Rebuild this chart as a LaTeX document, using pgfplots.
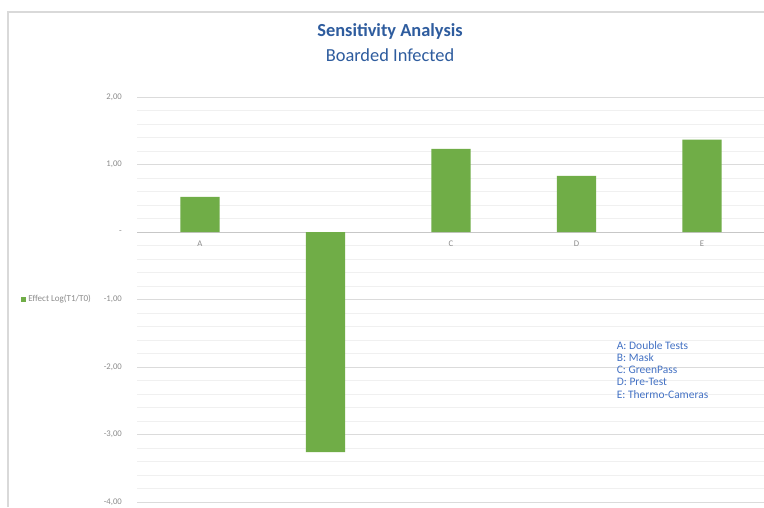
\documentclass[border=0pt]{standalone}
\usepackage{fontspec}
\setmainfont{Carlito}
\usepackage{pgfplots}
\pgfplotsset{compat=1.18}
\definecolor{bargreen}{HTML}{70AD47}
\definecolor{titleblue}{HTML}{2E5C9E}
\definecolor{noteblue}{HTML}{4472C4}
\definecolor{ticktxt}{HTML}{8C8C8C}

\begin{document}
\begin{tikzpicture}[x=1pt,y=1pt]
\useasboundingbox (0,0) rectangle (573,380.25);
\fill[white] (0,0) rectangle (573,380.25);
% chart frame
\draw[black!15, line width=1.2pt] (6,0) -- (6,371.25) -- (573,371.25);

\node[font=\bfseries\fontsize{13.8}{15}\selectfont, text=titleblue] at (292.5,357) {Sensitivity Analysis};
\node[font=\fontsize{13.8}{15}\selectfont, text=titleblue] at (292.5,338.5) {Boarded Infected};

\begin{axis}[
    at={(102.9pt,3.75pt)}, anchor=south west,
    scale only axis,
    width=470.6pt, height=303.75pt,
    ybar, bar width=29.5pt,
    xmin=-0.5, xmax=4.5,
    ymin=-4, ymax=2,
    axis x line*=middle,
    axis y line*=left,
    x axis line style={black!22, line width=0.6pt},
    y axis line style={draw=none},
    xtick={0,1,2,3,4},
    xticklabels={A,B,C,D,E},
    ytick={-4,-3,-2,-1,0,1,2},
    yticklabels={{-4,00},{-3,00},{-2,00},{-1,00},{-},{1,00},{2,00}},
    minor y tick num=4,
    ymajorgrids, yminorgrids,
    major grid style={black!14, line width=0.6pt},
    minor grid style={black!6, line width=0.5pt},
    major tick length=0pt, minor tick length=0pt,
    tick style={draw=none},
    xticklabel style={font=\fontsize{6.5}{7.5}\selectfont, text=ticktxt, yshift=-3pt},
    yticklabel style={font=\fontsize{6.5}{7.5}\selectfont, text=ticktxt, xshift=-8pt},
    legend style={at={(-0.192,0.5)}, anchor=west, draw=none, fill=none,
        font=\fontsize{6.8}{8}\selectfont, text=ticktxt,
        /tikz/every even column/.append style={column sep=1pt}},
    legend image code/.code={\fill[bargreen] (0pt,-1.8pt) rectangle (3.6pt,1.8pt);},
]
\addplot[fill=bargreen, draw=none] coordinates {(0,0.52) (1,-3.26) (2,1.23) (3,0.83) (4,1.37)};
\addlegendentry{Effect Log(T1/T0)}
\node[anchor=north west, align=left, text=noteblue,
      font=\fontsize{8.6}{9.1}\selectfont, inner sep=0pt] at (axis cs:3.32,-1.62)
  {A: Double Tests\\B: Mask\\C: GreenPass\\D: Pre-Test\\E: Thermo-Cameras};
\end{axis}
\end{tikzpicture}
\end{document}
